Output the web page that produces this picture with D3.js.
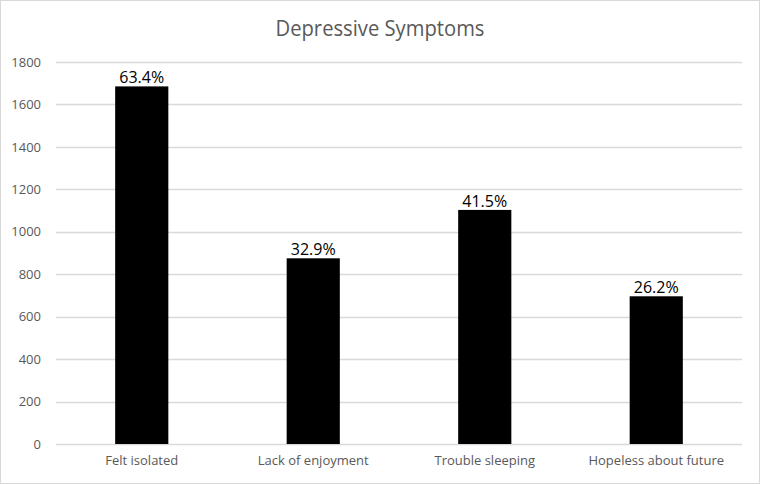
<!DOCTYPE html>
<html>
<head>
<meta charset="utf-8">
<script src="https://cdn.jsdelivr.net/npm/d3@7"></script>
<style>
  body { margin: 0; background: #fff; }
  text { font-family: "Open Sans", "Noto Sans", sans-serif; }
</style>
</head>
<body>
<div id="chart"></div>
<script>
// data
var categories = ["Felt isolated", "Lack of enjoyment", "Trouble sleeping", "Hopeless about future"];
var counts = [1685, 875, 1103, 696];
var pctLabels = ["63.4%", "32.9%", "41.5%", "26.2%"];
var yTicks = [0, 200, 400, 600, 800, 1000, 1200, 1400, 1600, 1800];

var W = 760, H = 484;
var margin = { top: 62, right: 18, bottom: 40, left: 56 };
var w = W - margin.left - margin.right,
    h = H - margin.top - margin.bottom;

var svg = d3.select("#chart").append("svg")
    .attr("width", W)
    .attr("height", H);

// outer border
svg.append("rect")
    .attr("x", 0.5).attr("y", 0.5)
    .attr("width", W - 1).attr("height", H - 1)
    .attr("fill", "#fff")
    .attr("stroke", "#d9d9d9");

// title (condensed a bit to look like the original)
svg.append("text")
    .attr("x", W / 2)
    .attr("y", 36)
    .attr("text-anchor", "middle")
    .attr("fill", "#595959")
    .attr("font-size", 21)
    .attr("textLength", 209)
    .attr("lengthAdjust", "spacingAndGlyphs")
    .text("Depressive Symptoms");

var g = svg.append("g")
    .attr("transform", "translate(" + margin.left + "," + margin.top + ")");

var x = d3.scaleBand().domain(categories).range([0, w]).padding(0);
var y = d3.scaleLinear().domain([0, 1800]).range([h, 0]);

// gridlines
g.selectAll(".grid")
    .data(yTicks).enter()
    .append("line")
    .attr("class", "grid")
    .attr("x1", 0).attr("x2", w)
    .attr("y1", function (d) { return Math.round(y(d)) + 0.5; })
    .attr("y2", function (d) { return Math.round(y(d)) + 0.5; })
    .attr("stroke", "#d9d9d9")
    .attr("stroke-width", 1.3);

// y axis labels
var yAxis = d3.axisLeft(y).tickValues(yTicks).tickFormat(d3.format("d")).tickSize(0).tickPadding(15);
g.append("g")
    .call(yAxis)
    .call(function (s) { s.select(".domain").remove(); })
    .selectAll("text")
    .attr("fill", "#595959")
    .attr("font-size", 13)
    .style("font-family", "'Open Sans', sans-serif");

// x axis labels
var xAxis = d3.axisBottom(x).tickSize(0).tickPadding(12);
g.append("g")
    .attr("transform", "translate(0," + h + ")")
    .call(xAxis)
    .call(function (s) { s.select(".domain").remove(); })
    .selectAll("text")
    .attr("fill", "#595959")
    .attr("font-size", 13)
    .style("font-family", "'Open Sans', sans-serif");

// bars
var barW = x.bandwidth() * 0.31;
var rows = categories.map(function (c, i) {
    return { cat: c, val: counts[i], lab: pctLabels[i] };
});

g.selectAll(".bar")
    .data(rows).enter()
    .append("rect")
    .attr("class", "bar")
    .attr("x", function (d) { return x(d.cat) + (x.bandwidth() - barW) / 2; })
    .attr("y", function (d) { return y(d.val); })
    .attr("width", barW)
    .attr("height", function (d) { return h - y(d.val); })
    .attr("fill", "#000");

// value labels
g.selectAll(".lab")
    .data(rows).enter()
    .append("text")
    .attr("class", "lab")
    .attr("x", function (d) { return x(d.cat) + x.bandwidth() / 2; })
    .attr("y", function (d) { return y(d.val) - 3; })
    .attr("text-anchor", "middle")
    .attr("fill", "#000")
    .attr("font-size", 16)
    .text(function (d) { return d.lab; });
</script>
</body>
</html>
